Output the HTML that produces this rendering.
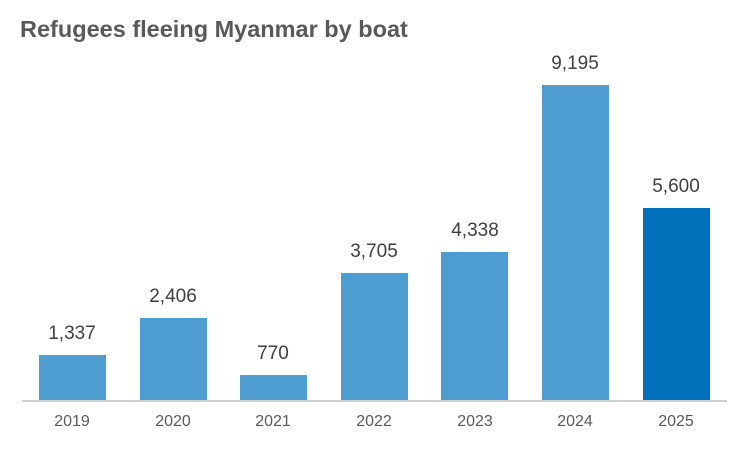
<!DOCTYPE html>
<html><head><meta charset="utf-8"><style>
html,body{margin:0;padding:0;background:#fff;}
body{width:750px;height:450px;position:relative;overflow:hidden;font-family:"Liberation Sans",sans-serif;}
.t{position:absolute;left:20px;top:16px;font-size:23.5px;font-weight:bold;color:#595959;}
.b{position:absolute;background:#4d9dd1;width:67px;}
.v{position:absolute;width:100px;text-align:center;font-size:19px;color:#404040;}
.x{position:absolute;top:413px;width:100px;text-align:center;font-size:16px;color:#595959;}
.ax{position:absolute;left:22px;top:400px;width:705px;height:2px;background:#d0d0d0;}
</style></head><body>
<div class="t">Refugees fleeing Myanmar by boat</div>
<div class="b" style="left:39px;top:355px;height:45px"></div>
<div class="b" style="left:140px;top:318px;height:82px"></div>
<div class="b" style="left:240px;top:375px;height:25px"></div>
<div class="b" style="left:341px;top:273px;height:127px"></div>
<div class="b" style="left:441px;top:252px;height:148px"></div>
<div class="b" style="left:542px;top:85px;height:315px"></div>
<div class="b" style="left:643px;top:208px;height:192px;background:#0070ba"></div>
<div class="ax"></div>
<div class="v" style="left:22px;top:323px">1,337</div>
<div class="v" style="left:123px;top:286px">2,406</div>
<div class="v" style="left:223px;top:343px">770</div>
<div class="v" style="left:324px;top:241px">3,705</div>
<div class="v" style="left:425px;top:220px">4,338</div>
<div class="v" style="left:525px;top:53px">9,195</div>
<div class="v" style="left:626px;top:176px">5,600</div>
<div class="x" style="left:22px">2019</div>
<div class="x" style="left:123px">2020</div>
<div class="x" style="left:223px">2021</div>
<div class="x" style="left:324px">2022</div>
<div class="x" style="left:425px">2023</div>
<div class="x" style="left:525px">2024</div>
<div class="x" style="left:626px">2025</div>
</body></html>
